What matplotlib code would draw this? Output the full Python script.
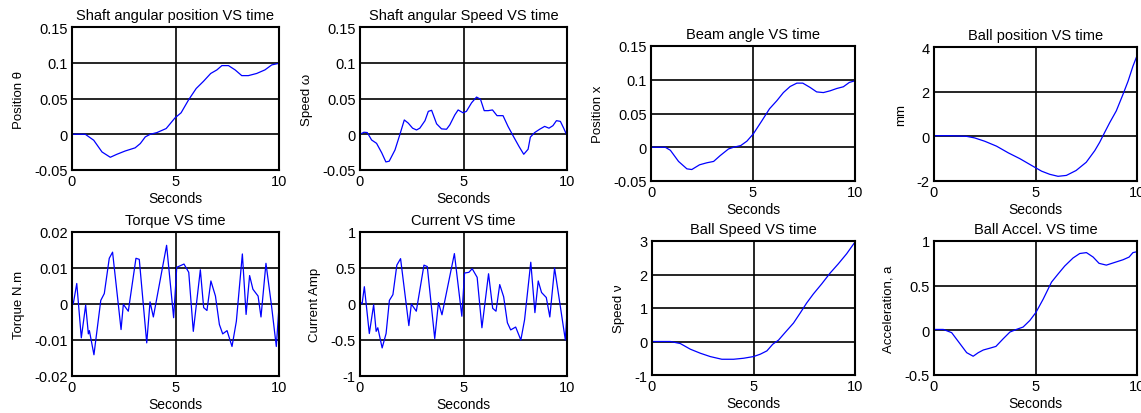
import matplotlib
matplotlib.use("Agg")
import matplotlib.pyplot as plt

plt.rcParams['font.family'] = ['Liberation Sans', 'DejaVu Sans']

# shaft angular position
t_pos = [0, 0.64, 1.05, 1.45, 1.85, 2.17, 2.57, 3.05, 3.3, 3.54, 3.78, 4.1, 4.55, 4.98,
         5.27, 5.63, 6.0, 6.35, 6.7, 7.0, 7.24, 7.56, 7.88, 8.2, 8.52, 8.92, 9.32, 9.65, 9.97]
shaft_pos = [0, 0, -0.0084, -0.0248, -0.0322, -0.028, -0.0234, -0.019, -0.013, -0.0037, 0,
             0.0023, 0.008, 0.023, 0.030, 0.048, 0.064, 0.074, 0.085, 0.090, 0.096, 0.096,
             0.090, 0.082, 0.082, 0.085, 0.090, 0.097, 0.099]

# shaft angular speed
t_spd = [0, 0.19, 0.35, 0.56, 0.8, 1.05, 1.25, 1.41, 1.69, 1.93, 2.14, 2.33, 2.54, 2.73,
         2.89, 3.14, 3.3, 3.46, 3.7, 3.94, 4.18, 4.34, 4.58, 4.74, 4.98, 5.14, 5.39, 5.63,
         5.82, 6.0, 6.19, 6.4, 6.62, 6.91, 7.15, 7.4, 7.69, 7.91, 8.12, 8.23, 8.44, 8.68,
         8.92, 9.13, 9.32, 9.49, 9.68, 9.84, 9.97]
shaft_spd = [0, 0.0028, 0.0024, -0.008, -0.0127, -0.026, -0.0387, -0.0377, -0.022, 0,
             0.020, 0.0156, 0.0085, 0.006, 0.0085, 0.019, 0.032, 0.0335, 0.0146, 0.0075,
             0.007, 0.0132, 0.027, 0.034, 0.030, 0.032, 0.044, 0.052, 0.049, 0.033, 0.033,
             0.034, 0.026, 0.026, 0.011, -0.0024, -0.0175, -0.028, -0.021, -0.004, 0.0024,
             0.007, 0.011, 0.0085, 0.012, 0.019, 0.018, 0.0085, 0]

# torque
t_trq = [0, 0.06, 0.23, 0.45, 0.66, 0.79, 0.84, 1.06, 1.39, 1.56, 1.80, 1.96, 2.37, 2.48,
         2.72, 3.09, 3.25, 3.61, 3.77, 3.93, 4.57, 4.91, 5.06, 5.14, 5.41, 5.64, 5.86,
         6.20, 6.36, 6.52, 6.71, 6.93, 7.12, 7.28, 7.49, 7.73, 7.94, 8.23, 8.41, 8.58,
         8.74, 8.99, 9.13, 9.37, 9.63, 9.87, 9.98]
torque = [0.0013, 0, 0.0057, -0.0094, -0.0003, -0.0083, -0.0074, -0.0141, 0.001, 0.0029,
          0.0127, 0.0144, -0.0071, -0.0001, -0.002, 0.0127, 0.0124, -0.0108, 0.0006,
          -0.0036, 0.0163, -0.0038, 0.0102, 0.0104, 0.0111, 0.0088, -0.0076, 0.0095,
          -0.001, -0.0018, 0.0064, 0.0022, -0.0057, -0.0083, -0.0074, -0.0118, -0.0048,
          0.0139, -0.0029, 0.0079, 0.0041, 0.0022, -0.0036, 0.0113, -0.0001, -0.0118,
          -0.0024]

# current
t_cur = [0, 0.1, 0.21, 0.45, 0.66, 0.78, 0.86, 1.07, 1.26, 1.42, 1.59, 1.78, 1.96, 2.36,
         2.48, 2.72, 3.09, 3.25, 3.61, 3.79, 3.96, 4.56, 4.92, 5.05, 5.26, 5.42, 5.66,
         5.89, 6.21, 6.41, 6.57, 6.75, 6.94, 7.12, 7.28, 7.52, 7.77, 7.95, 8.25, 8.45,
         8.61, 8.77, 9.0, 9.17, 9.40, 9.66, 9.92, 10]
current = [0.03, 0, 0.24, -0.41, -0.01, -0.38, -0.33, -0.61, -0.41, 0.05, 0.13, 0.54,
           0.63, -0.30, 0, -0.10, 0.54, 0.52, -0.48, 0.02, -0.15, 0.70, -0.17, 0.43, 0.44,
           0.49, 0.37, -0.33, 0.42, -0.06, -0.10, 0.27, 0.10, -0.26, -0.36, -0.32, -0.50,
           -0.22, 0.58, -0.12, 0.32, 0.16, 0.09, -0.18, 0.50, 0, -0.50, -0.11]

# beam angle
t_beam = [0, 0.7, 0.95, 1.35, 1.76, 2.0, 2.38, 2.74, 3.07, 3.39, 3.8, 4.05, 4.4, 4.7, 5.02,
          5.43, 5.81, 6.17, 6.49, 6.82, 7.15, 7.44, 7.8, 8.12, 8.45, 8.78, 9.1, 9.43, 9.72, 10]
beam = [0, 0, -0.0045, -0.021, -0.032, -0.033, -0.026, -0.023, -0.021, -0.0124, -0.0025,
        0, 0.0025, 0.009, 0.020, 0.039, 0.057, 0.069, 0.081, 0.090, 0.095, 0.095, 0.0886,
        0.082, 0.081, 0.0836, 0.087, 0.0896, 0.096, 0.0985]

# ball position
t_ball = [0, 0.82, 1.6, 2.0, 2.5, 3.08, 3.66, 4.23, 4.8, 5.3, 5.7, 6.11, 6.52, 7.0, 7.5,
          7.92, 8.16, 8.41, 8.66, 8.98, 9.31, 9.56, 9.8, 10]
ball_pos = [0.03, 0.03, 0, -0.07, -0.22, -0.44, -0.74, -1.0, -1.3, -1.56, -1.70, -1.79,
            -1.75, -1.53, -1.16, -0.64, -0.27, 0.18, 0.62, 1.14, 1.88, 2.47, 3.14, 3.61]

# ball speed
t_bspd = [0, 0.9, 1.39, 1.89, 2.38, 2.87, 3.44, 4.02, 4.51, 5.0, 5.33, 5.66, 5.95, 6.23,
          6.56, 6.97, 7.3, 7.62, 7.95, 8.36, 8.77, 9.18, 9.59, 10]
ball_spd = [0, 0, -0.06, -0.23, -0.35, -0.45, -0.53, -0.53, -0.50, -0.45, -0.38, -0.28,
            -0.08, 0.04, 0.27, 0.55, 0.85, 1.15, 1.42, 1.72, 2.04, 2.32, 2.62, 2.97]

# ball acceleration
t_acc = [0, 0.46, 0.87, 1.28, 1.61, 1.93, 2.18, 2.43, 2.75, 3.05, 3.41, 3.74, 4.07, 4.39,
         4.72, 5.02, 5.38, 5.79, 6.11, 6.44, 6.85, 7.18, 7.51, 7.84, 8.13, 8.49, 8.9, 9.31,
         9.61, 9.8, 10]
ball_acc = [0.01, 0.01, -0.026, -0.15, -0.25, -0.29, -0.25, -0.22, -0.20, -0.18, -0.094,
            -0.019, 0.011, 0.037, 0.11, 0.20, 0.35, 0.54, 0.63, 0.72, 0.81, 0.86, 0.87,
            0.82, 0.75, 0.73, 0.76, 0.79, 0.82, 0.87, 0.88]

W, H = 1141, 414
panels = [
    # (x0, x1, ytop, ybot), title, ylabel, t, y, ylim, yticks, yticklabels
    ((72, 279, 28, 171), "Shaft angular position VS time", "Position \u03b8", t_pos, shaft_pos,
     (-0.05, 0.15), [-0.05, 0, 0.05, 0.1, 0.15], ["-0.05", "0", "0.05", "0.1", "0.15"]),
    ((360, 567, 28, 171), "Shaft angular Speed VS time", "Speed \u03c9", t_spd, shaft_spd,
     (-0.05, 0.15), [-0.05, 0, 0.05, 0.1, 0.15], ["-0.05", "0", "0.05", "0.1", "0.15"]),
    ((72, 279, 233, 377), "Torque VS time", "Torque N.m", t_trq, torque,
     (-0.02, 0.02), [-0.02, -0.01, 0, 0.01, 0.02], ["-0.02", "-0.01", "0", "0.01", "0.02"]),
    ((360, 567, 233, 377), "Current VS time", "Current Amp", t_cur, current,
     (-1, 1), [-1, -0.5, 0, 0.5, 1], ["-1", "-0.5", "0", "0.5", "1"]),
    ((651, 855, 47, 182), "Beam angle VS time", "Position x", t_beam, beam,
     (-0.05, 0.15), [-0.05, 0, 0.05, 0.1, 0.15], ["-0.05", "0", "0.05", "0.1", "0.15"]),
    ((934, 1137, 48, 182), "Ball position VS time", "mm", t_ball, ball_pos,
     (-2, 4), [-2, 0, 2, 4], ["-2", "0", "2", "4"]),
    ((652, 855, 242, 376), "Ball Speed VS time", "Speed \u03bd", t_bspd, ball_spd,
     (-1, 3), [-1, 0, 1, 2, 3], ["-1", "0", "1", "2", "3"]),
    ((934, 1137, 242, 376), "Ball Accel. VS time", "Acceleration, a", t_acc, ball_acc,
     (-0.5, 1), [-0.5, 0, 0.5, 1], ["-0.5", "0", "0.5", "1"]),
]

fig = plt.figure(figsize=(W / 100, H / 100), dpi=100)
for (x0, x1, yt, yb), title, ylab, t, y, ylim, yt_, ytl in panels:
    ax = fig.add_axes([x0 / W, 1 - yb / H, (x1 - x0) / W, (yb - yt) / H])
    ax.plot(t, y, color="#0000ff", lw=0.9)
    ax.set_xlim(0, 10)
    ax.set_ylim(*ylim)
    ax.set_xticks([0, 5, 10])
    ax.set_xticklabels(["0", "5", "10"])
    ax.set_yticks(yt_)
    ax.set_yticklabels(ytl)
    ax.grid(True, color="black", lw=1.2)
    ax.tick_params(length=0, labelsize=10.5, pad=3)
    for s in ax.spines.values():
        s.set_linewidth(1.5)
        s.set_color("black")
    ax.set_title(title, fontsize=10.5, pad=6)
    ax.set_xlabel("Seconds", fontsize=10, labelpad=2)
    ax.set_ylabel(ylab, fontsize=9.5, labelpad=7)

fig.savefig("out.png", dpi=100)
